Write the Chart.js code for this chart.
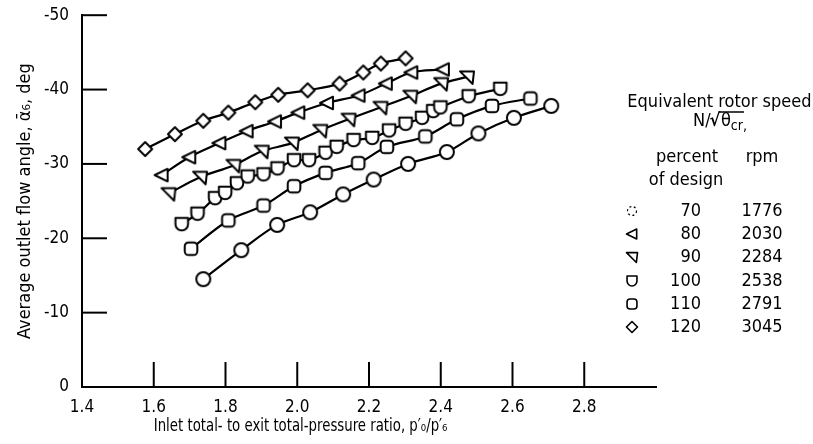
<!DOCTYPE html>
<html>
<head>
<meta charset="utf-8">
<script src="https://cdn.jsdelivr.net/npm/chart.js@4/dist/chart.umd.min.js"></script>
<style>
  html, body { margin: 0; padding: 0; background: #fff; }
  canvas { display: block; }
</style>
</head>
<body>
<canvas id="c" width="813" height="444"></canvas>
<script>
// Pressure ratio p0'/p6' (x) and average outlet flow angle, deg (y) per rotor speed
const ratio120 = [1.576, 1.659, 1.738, 1.808, 1.883, 1.947, 2.029, 2.118, 2.184, 2.233, 2.302];
const angle120 = [-32.0, -34.0, -35.8, -36.9, -38.3, -39.3, -39.9, -40.8, -42.3, -43.5, -44.2];

const ratio80 = [1.622, 1.699, 1.783, 1.859, 1.938, 2.003, 2.083, 2.171, 2.247, 2.318, 2.406];
const angle80 = [-28.5, -30.9, -32.8, -34.4, -35.7, -36.9, -38.2, -39.2, -40.8, -42.3, -42.7];

const ratio90 = [1.641, 1.729, 1.822, 1.901, 1.985, 2.064, 2.143, 2.232, 2.315, 2.401, 2.473];
const angle90 = [-26.0, -28.2, -29.8, -31.7, -32.8, -34.5, -36.0, -37.6, -39.1, -40.8, -41.7];

const ratio100 = [1.678, 1.722, 1.771, 1.799, 1.832, 1.862, 1.906, 1.945, 1.991, 2.033, 2.079,
                  2.110, 2.157, 2.209, 2.256, 2.302, 2.348, 2.379, 2.399, 2.478, 2.566];
const angle100 = [-21.9, -23.3, -25.4, -26.1, -27.4, -28.3, -28.6, -29.4, -30.5, -30.5, -31.5,
                  -32.3, -33.2, -33.5, -34.5, -35.4, -36.2, -37.1, -37.6, -39.1, -40.1];

const ratio110 = [1.704, 1.808, 1.906, 1.991, 2.079, 2.170, 2.250, 2.357, 2.445, 2.543, 2.650];
const angle110 = [-18.6, -22.4, -24.4, -27.0, -28.8, -30.1, -32.3, -33.7, -36.0, -37.8, -38.8];

const ratio70 = [1.738, 1.844, 1.944, 2.036, 2.128, 2.213, 2.309, 2.417, 2.505, 2.604, 2.708];
const angle70 = [-14.5, -18.4, -21.8, -23.5, -25.9, -27.9, -30.0, -31.6, -34.1, -36.2, -37.8];

// Axis ticks
const xTicks = [1.4, 1.6, 1.8, 2.0, 2.2, 2.4, 2.6, 2.8];
const yTicks = [-50, -40, -30, -20, -10, 0];

// Speed table
const speedPercent = ['70', '80', '90', '100', '110', '120'];
const speedRpm = ['1776', '2030', '2284', '2538', '2791', '3045'];

const FONT = '"Liberation Sans Narrow", "DejaVu Sans Condensed", "Arial Narrow", sans-serif';
const X_TITLE = 'Inlet total- to exit total-pressure ratio, p\u2032\u2080/p\u2032\u2086';

// ---- marker glyphs -------------------------------------------------------
function glyph(size, lw, path, dashed) {
  const c = document.createElement('canvas');
  c.width = size; c.height = size;
  const g = c.getContext('2d');
  g.translate(size / 2, size / 2);
  g.lineWidth = lw;
  g.strokeStyle = '#000';
  g.fillStyle = '#fff';
  g.lineJoin = 'round';
  if (dashed) g.setLineDash(dashed);
  g.beginPath();
  path(g);
  g.closePath();
  g.fill();
  g.stroke();
  return c;
}
const shapes = {
  diamond: (r) => (g) => { g.moveTo(0, -r); g.lineTo(r, 0); g.lineTo(0, r); g.lineTo(-r, 0); },
  leftTri: (r) => (g) => { g.moveTo(-r, 0); g.lineTo(r * 0.85, -r * 0.9); g.lineTo(r * 0.85, r * 0.9); },
  flagTri: (r) => (g) => { g.moveTo(-r, -r * 0.8); g.lineTo(r, -r * 0.8); g.lineTo(r * 0.8, r); },
  shield: (r) => (g) => { g.moveTo(-r * 0.9, -r * 0.9); g.lineTo(r * 0.9, -r * 0.9); g.lineTo(r * 0.9, 0);
                          g.arc(0, 0, r * 0.9, 0, Math.PI, false); },
  roundSq: (r) => (g) => { g.roundRect(-r * 0.9, -r * 0.9, r * 1.8, r * 1.8, r * 0.55); },
  circle: (r) => (g) => { g.arc(0, 0, r, 0, Math.PI * 2); }
};

const mk = (name) => glyph(20, 2, shapes[name](7));

function series(label, xs, ys, marker) {
  return {
    label,
    data: xs.map((x, i) => ({ x, y: ys[i] })),
    borderColor: '#000',
    borderWidth: 2.2,
    tension: 0.35,
    fill: false,
    pointStyle: mk(marker),
    pointRadius: 7,
    pointHoverRadius: 7
  };
}

// ---- plugins -------------------------------------------------------------
const inwardTicks = {
  id: 'inwardTicks',
  beforeDatasetsDraw(chart) {
    const { ctx, scales: { x, y } } = chart;
    ctx.save();
    ctx.strokeStyle = '#000';
    ctx.lineWidth = 2;
    xTicks.slice(1).forEach(v => {
      const px = x.getPixelForValue(v);
      ctx.beginPath(); ctx.moveTo(px, y.bottom); ctx.lineTo(px, y.bottom - 25); ctx.stroke();
    });
    yTicks.slice(0, -1).forEach(v => {
      const py = y.getPixelForValue(v);
      ctx.beginPath(); ctx.moveTo(x.left, py); ctx.lineTo(x.left + 25, py); ctx.stroke();
    });
    ctx.restore();
  }
};

// x-axis title, starting under the 1.6 tick label
const xTitle = {
  id: 'xTitle',
  afterDraw(chart) {
    const { ctx, scales: { x } } = chart;
    ctx.save();
    ctx.fillStyle = '#000';
    ctx.font = '17px ' + FONT;
    ctx.textBaseline = 'middle';
    ctx.textAlign = 'left';
    const x0 = x.getPixelForValue(1.6);
    ctx.translate(x0, 427);
    ctx.scale(0.87, 1);
    ctx.fillText(X_TITLE, 0, 0);
    ctx.restore();
  }
};

const speedTable = {
  id: 'speedTable',
  afterDraw(chart) {
    const ctx = chart.ctx;
    ctx.save();
    ctx.fillStyle = '#000';
    ctx.textBaseline = 'middle';
    ctx.font = '18px ' + FONT;
    ctx.textAlign = 'center';
    ctx.fillText('Equivalent rotor speed,', 722, 102);

    // N/√θcr,
    const y2 = 121;
    ctx.textAlign = 'left';
    const pN = 'N/', pR = '\u221A', pT = '\u03B8';
    ctx.font = '18px ' + FONT;
    const wN = ctx.measureText(pN).width, wR = ctx.measureText(pR).width, wT = ctx.measureText(pT).width;
    ctx.font = '14px ' + FONT;
    const wS = ctx.measureText('cr').width, wC = ctx.measureText(',').width;
    let x0 = 720 - (wN + wR + wT + wS + wC) / 2;
    ctx.font = '18px ' + FONT;
    ctx.fillText(pN, x0, y2);
    ctx.font = 'bold 18px ' + FONT;
    ctx.fillText(pR, x0 + wN - 1, y2);
    ctx.font = '18px ' + FONT;
    ctx.fillText(pT, x0 + wN + wR, y2);
    ctx.font = '14px ' + FONT;
    ctx.fillText('cr', x0 + wN + wR + wT, y2 + 5);
    ctx.fillText(',', x0 + wN + wR + wT + wS, y2 + 5);
    ctx.lineWidth = 1.5;
    ctx.strokeStyle = '#000';
    ctx.beginPath();
    ctx.moveTo(x0 + wN + wR - 2, y2 - 9);
    ctx.lineTo(x0 + wN + wR + wT + wS + 1, y2 - 9);
    ctx.stroke();

    ctx.font = '18px ' + FONT;
    ctx.textAlign = 'center';
    ctx.fillText('percent', 687, 157);
    ctx.fillText('rpm', 762, 157);
    ctx.fillText('of design', 686, 180);

    const rowY = [211, 234, 257, 281, 304, 327];
    const legendGlyphs = [
      glyph(14, 1.2, shapes.circle(4.5), [2, 2.5]),
      glyph(16, 1.6, shapes.leftTri(5.5)),
      glyph(16, 1.6, shapes.flagTri(5.5)),
      glyph(16, 1.6, shapes.shield(5.5)),
      glyph(16, 1.6, shapes.roundSq(5.5)),
      glyph(16, 1.6, shapes.diamond(5.5))
    ];
    speedPercent.forEach((p, i) => {
      const g = legendGlyphs[i];
      ctx.drawImage(g, 632 - g.width / 2, rowY[i] - g.height / 2);
      ctx.textAlign = 'right';
      ctx.fillText(p, 701, rowY[i]);
      ctx.textAlign = 'center';
      ctx.fillText(speedRpm[i], 762, rowY[i]);
    });
    ctx.restore();
  }
};

// ---- chart ---------------------------------------------------------------
new Chart(document.getElementById('c'), {
  type: 'line',
  data: {
    datasets: [
      series('120 percent', ratio120, angle120, 'diamond'),
      series('80 percent', ratio80, angle80, 'leftTri'),
      series('90 percent', ratio90, angle90, 'flagTri'),
      series('100 percent', ratio100, angle100, 'shield'),
      series('110 percent', ratio110, angle110, 'roundSq'),
      series('70 percent', ratio70, angle70, 'circle')
    ]
  },
  options: {
    responsive: false,
    animation: false,
    events: [],
    layout: { padding: { top: 15, right: 157, left: 0, bottom: 0 } },
    plugins: { legend: { display: false }, tooltip: { enabled: false } },
    scales: {
      x: {
        type: 'linear',
        min: 1.4,
        max: 3.0,
        afterBuildTicks: (s) => { s.ticks = xTicks.concat([3.0]).map(v => ({ value: v })); },
        ticks: {
          color: '#000',
          font: { family: FONT, size: 17 },
          padding: 2,
          maxRotation: 0,
          autoSkip: false,
          callback: (v) => (xTicks.includes(Math.round(v * 10) / 10) ? v.toFixed(1) : '')
        },
        grid: { display: false },
        border: { display: true, color: '#000', width: 2 },
        title: { display: false },
        afterFit: (s) => { s.height = 57; }
      },
      y: {
        type: 'linear',
        min: -50,
        max: 0,
        reverse: true,
        afterBuildTicks: (s) => { s.ticks = yTicks.map(v => ({ value: v })); },
        ticks: {
          color: '#000',
          font: { family: FONT, size: 17 },
          padding: 5,
          callback: (v) => String(v)
        },
        grid: { display: false },
        border: { display: true, color: '#000', width: 2 },
        title: {
          display: true,
          text: 'Average outlet flow angle, \u1FB1\u2086, deg',
          color: '#000',
          font: { family: FONT, size: 18 },
          padding: { top: 15, bottom: 0 }
        },
        afterFit: (s) => { s.width = 82; }
      }
    }
  },
  plugins: [inwardTicks, xTitle, speedTable]
});
</script>
</body>
</html>
